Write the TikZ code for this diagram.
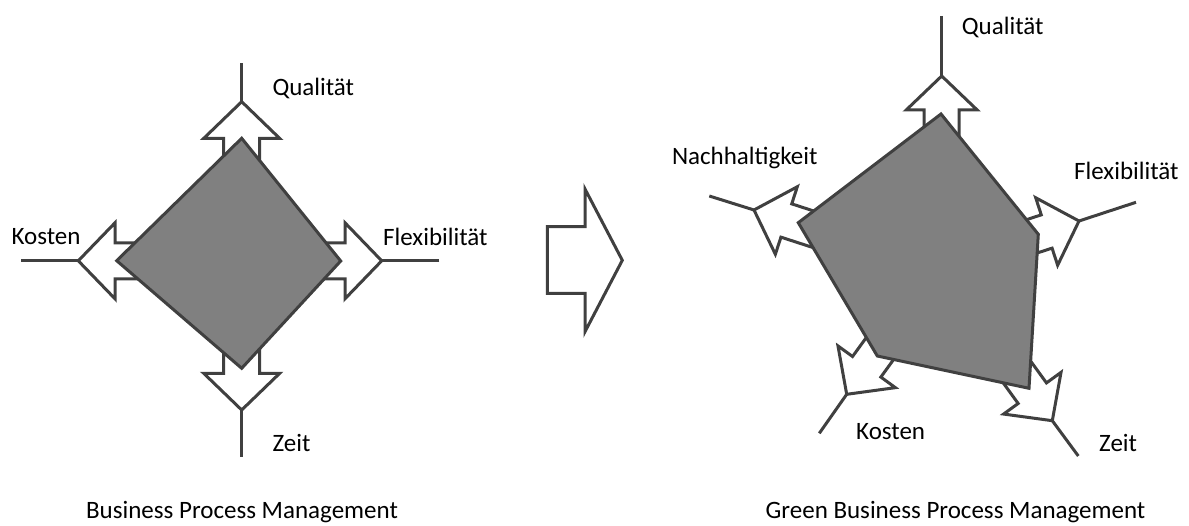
\documentclass[tikz,border=0pt]{standalone}
\usepackage{fontspec}
\setmainfont{Carlito}
\definecolor{linegray}{HTML}{404040}
\definecolor{shapegray}{HTML}{808080}
\begin{document}
\begin{tikzpicture}[x=1pt,y=-1pt,
  outline/.style={draw=linegray, line width=3pt, line join=miter, miter limit=10},
  axisline/.style={draw=linegray, line width=3pt},
  blockfill/.style={outline, fill=white},
  label/.style={inner sep=0pt, font=\fontsize{25}{30}\selectfont, text=black},
  % block arrow pointing along +x with its tip at the origin:
  % #1 head length, #2 head half width, #3 shaft half width, #4 total length
  pics/outarrow/.style n args={4}{code={
    \path[blockfill] (0,0) -- (-#1,#2) -- (-#1,#3) -- (-#4,#3) -- (-#4,-#3)
      -- (-#1,-#3) -- (-#1,-#2) -- cycle;
  }}
]
\useasboundingbox (0,0) rectangle (1189,526);

% ---------- Business Process Management ----------
\coordinate (bq-tip) at (241.7,101.7);  \coordinate (bq-end) at (241.7,63.3);
\coordinate (bz-tip) at (241.7,410);    \coordinate (bz-end) at (241.7,456.7);
\coordinate (bk-tip) at (78.3,260.8);   \coordinate (bk-end) at (21,260.8);
\coordinate (bf-tip) at (381.7,260.8);  \coordinate (bf-end) at (439.3,260.8);

\draw[axisline] (bq-end) -- (bq-tip);
\draw[axisline] (bz-end) -- (bz-tip);
\draw[axisline] (bk-end) -- (bk-tip);
\draw[axisline] (bf-end) -- (bf-tip);

\pic[rotate=90]  at (bq-tip) {outarrow={36.7}{38}{18}{110}};
\pic[rotate=-90] at (bz-tip) {outarrow={36.7}{38}{18}{110}};
\pic[rotate=180] at (bk-tip) {outarrow={36.7}{38}{18}{110}};
\pic[rotate=0]   at (bf-tip) {outarrow={36.7}{38}{18}{110}};

\coordinate (d1) at (241.7,138.3);
\coordinate (d2) at (340.7,261);
\coordinate (d3) at (241.7,368.3);
\coordinate (d4) at (116.7,260.7);
\path[outline, fill=shapegray] (d1) -- (d2) -- (d3) -- (d4) -- cycle;

\node[label, anchor=base west] (bq-lab) at (272.3,95.7) {Qualität};
\node[label, anchor=base east] (bk-lab) at (80.7,245) {Kosten};
\node[label, anchor=base west] (bf-lab) at (383,246) {Flexibilität};
\node[label, anchor=base west] (bz-lab) at (272.3,451.7) {Zeit};
\node[label, anchor=base] (btitle) at (242,518) {Business Process Management};

% ---------- transition arrow ----------
\path[blockfill] (547.3,226.7) -- (585,226.7) -- (585,189) -- (622.3,260.3)
  -- (585,331.7) -- (585,293.3) -- (547.3,293.3) -- cycle;

% ---------- Green Business Process Management ----------
\coordinate (gq-tip) at (941.7,76);     \coordinate (gq-end) at (941.7,16);
\coordinate (gf-tip) at (1079,221);     \coordinate (gf-end) at (1136,202.3);
\coordinate (gz-tip) at (1052.3,420.7); \coordinate (gz-end) at (1078.3,456);
\coordinate (gk-tip) at (846.7,394.3);  \coordinate (gk-end) at (819.3,433.3);
\coordinate (gn-tip) at (754,210);      \coordinate (gn-end) at (709.3,196);

\draw[axisline] (gq-end) -- (gq-tip);
\draw[axisline] (gf-end) -- (gf-tip);
\draw[axisline] (gz-end) -- (gz-tip);
\draw[axisline] (gk-end) -- (gk-tip);
\draw[axisline] (gn-end) -- (gn-tip);

\pic[rotate=90]   at (gq-tip) {outarrow={34}{35.5}{17.5}{100}};
\pic[rotate=18]   at (gf-tip) {outarrow={34}{35.5}{17.5}{100}};
\pic[rotate=-54]  at (gz-tip) {outarrow={34}{35.5}{17.5}{100}};
\pic[rotate=-126] at (gk-tip) {outarrow={34}{35.5}{17.5}{100}};
\pic[rotate=162]  at (gn-tip) {outarrow={34}{35.5}{17.5}{100}};

\coordinate (p1) at (941,114);
\coordinate (p2) at (1038.3,234.3);
\coordinate (p3) at (1029,388.3);
\coordinate (p4) at (877.3,356);
\coordinate (p5) at (798.3,222.7);
\path[outline, fill=shapegray] (p1) -- (p2) -- (p3) -- (p4) -- (p5) -- cycle;

\node[label, anchor=base west] (gq-lab) at (961.7,35) {Qualität};
\node[label, anchor=base east] (gn-lab) at (817.7,165) {Nachhaltigkeit};
\node[label, anchor=base west] (gf-lab) at (1074,180) {Flexibilität};
\node[label, anchor=base west] (gk-lab) at (856,439.3) {Kosten};
\node[label, anchor=base west] (gz-lab) at (1099,451.7) {Zeit};
\node[label, anchor=base] (gtitle) at (955.5,518) {Green Business Process Management};
\end{tikzpicture}
\end{document}
